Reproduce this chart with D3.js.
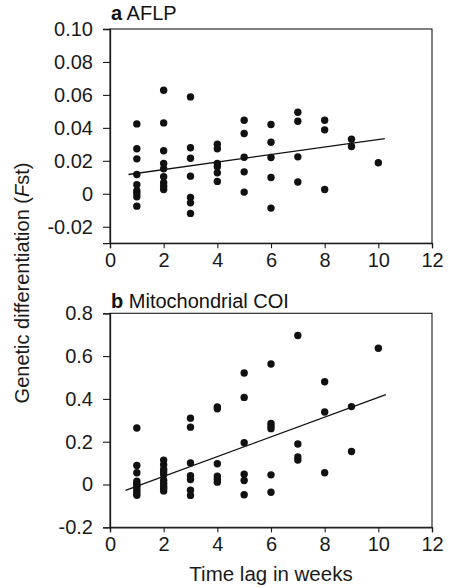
<!DOCTYPE html>
<html>
<head>
<meta charset="utf-8">
<script src="https://cdn.jsdelivr.net/npm/d3@7"></script>
<style>
  html, body { margin: 0; padding: 0; background: #fff; }
  svg { display: block; font-family: "Liberation Sans", Arial, sans-serif; }
</style>
</head>
<body>
<svg id="chart" width="450" height="588"></svg>
<script>
// ---- data ----
const weeks = [1, 2, 3, 4, 5, 6, 7, 8, 9, 10];

// Panel a: AFLP Fst values per time lag (weeks)
const aflpValues = [
  [0.0424, 0.0273, 0.0212, 0.0117, 0.0055, 0.0018, 0.0002, -0.0018, -0.0075],
  [0.0628, 0.0430, 0.0261, 0.0184, 0.0152, 0.0103, 0.0067, 0.0046, 0.0026],
  [0.0588, 0.0279, 0.0216, 0.0107, -0.0022, -0.0055, -0.0119],
  [0.0301, 0.0273, 0.0184, 0.0164, 0.0127, 0.0075],
  [0.0446, 0.0366, 0.0222, 0.0133, 0.0010],
  [0.0420, 0.0313, 0.0220, 0.0099, -0.0087],
  [0.0495, 0.0440, 0.0224, 0.0071],
  [0.0446, 0.0388, 0.0026],
  [0.0331, 0.0287],
  [0.0188]
];

// Panel b: Mitochondrial COI Fst values per time lag (weeks)
const coiValues = [
  [0.264, 0.089, 0.055, 0.016, 0.005, -0.005, -0.014, -0.027, -0.039, -0.050],
  [0.114, 0.092, 0.070, 0.058, 0.045, 0.020, 0.005, -0.008, -0.017, -0.030],
  [0.310, 0.268, 0.101, 0.041, 0.023, -0.027, -0.051],
  [0.362, 0.354, 0.097, 0.039, 0.025, 0.011],
  [0.521, 0.407, 0.195, 0.048, 0.019, -0.048],
  [0.563, 0.285, 0.273, 0.261, 0.045, -0.036],
  [0.696, 0.189, 0.129, 0.114],
  [0.480, 0.339, 0.055],
  [0.364, 0.154],
  [0.637]
];

// regression lines: [x start, y start, x end, y end]
const aflpFit = [0.69, 0.0117, 10.24, 0.0335];
const coiFit = [0.58, -0.027, 10.28, 0.420];

const xTicks = [0, 2, 4, 6, 8, 10, 12];
const aflpTicks = [-0.02, 0, 0.02, 0.04, 0.06, 0.08, 0.10];
const aflpTickLabels = ["-0.02", "0", "0.02", "0.04", "0.06", "0.08", "0.10"];
const coiTicks = [-0.2, 0, 0.2, 0.4, 0.6, 0.8];
const coiTickLabels = ["-0.2", "0", "0.2", "0.4", "0.6", "0.8"];

// ---- drawing ----
const svg = d3.select("#chart");
const left = 110, right = 432;
const fontSize = 20;
const ink = "#1a1a1a";

const x = d3.scaleLinear().domain([0, 12]).range([left, right]);

function panel(cfg) {
  const y = d3.scaleLinear().domain(cfg.domain).range([cfg.bottom, cfg.top]);
  const g = svg.append("g");

  // frame
  g.append("rect")
    .attr("x", left).attr("y", cfg.top)
    .attr("width", right - left).attr("height", cfg.bottom - cfg.top)
    .attr("fill", "none").attr("stroke", ink).attr("stroke-width", 1.1);

  // y axis
  const yAxis = d3.axisLeft(y).tickValues(cfg.ticks)
    .tickFormat((d, i) => cfg.labels[i]).tickSize(7).tickPadding(10);
  const ya = g.append("g").attr("transform", `translate(${left},0)`).call(yAxis);
  ya.select(".domain").attr("stroke", ink).attr("stroke-width", 1.3);
  ya.selectAll(".tick line").attr("stroke", ink).attr("stroke-width", 1.1);
  ya.selectAll(".tick text").attr("font-size", fontSize).attr("fill", ink)
    .attr("font-family", "'Liberation Sans', Arial, sans-serif");

  // x axis
  const xAxis = d3.axisBottom(x).tickValues(xTicks).tickSize(5).tickPadding(5);
  const xa = g.append("g").attr("transform", `translate(0,${cfg.bottom})`).call(xAxis);
  xa.select(".domain").attr("stroke", ink).attr("stroke-width", 1.3);
  xa.selectAll(".tick line").attr("stroke", ink).attr("stroke-width", 1.1);
  xa.selectAll(".tick text").attr("font-size", fontSize).attr("fill", ink)
    .attr("font-family", "'Liberation Sans', Arial, sans-serif");

  // points
  const pts = [];
  cfg.values.forEach((vals, i) => vals.forEach(v => pts.push([weeks[i], v])));
  g.append("g").selectAll("circle").data(pts).join("circle")
    .attr("cx", d => x(d[0])).attr("cy", d => y(d[1]))
    .attr("r", 3.7).attr("fill", "#111");

  // regression line
  g.append("line")
    .attr("x1", x(cfg.fit[0])).attr("y1", y(cfg.fit[1]))
    .attr("x2", x(cfg.fit[2])).attr("y2", y(cfg.fit[3]))
    .attr("stroke", "#111").attr("stroke-width", 1.3);

  // title
  const t = g.append("text").attr("x", left + 1).attr("y", cfg.titleY)
    .attr("font-size", fontSize).attr("fill", "#111");
  t.append("tspan").attr("font-weight", "bold").text(cfg.letter);
  t.append("tspan").text(" " + cfg.title);
}

panel({
  domain: [-0.03, 0.10], top: 29, bottom: 243.2,
  ticks: aflpTicks, labels: aflpTickLabels,
  values: aflpValues, fit: aflpFit,
  letter: "a", title: "AFLP", titleY: 20
});

panel({
  domain: [-0.2, 0.8], top: 313.3, bottom: 527.3,
  ticks: coiTicks, labels: coiTickLabels,
  values: coiValues, fit: coiFit,
  letter: "b", title: "Mitochondrial COI", titleY: 308
});

// axis titles
svg.append("text")
  .attr("x", (left + right) / 2).attr("y", 581)
  .attr("text-anchor", "middle").attr("font-size", fontSize + 0.5).attr("fill", ink)
  .text("Time lag in weeks");

const yl = svg.append("text")
  .attr("transform", "translate(29,283) rotate(-90)")
  .attr("text-anchor", "middle").attr("font-size", fontSize).attr("fill", ink);
yl.append("tspan").text("Genetic differentiation (");
yl.append("tspan").attr("font-style", "italic").text("F");
yl.append("tspan").text("st)");
</script>
</body>
</html>
